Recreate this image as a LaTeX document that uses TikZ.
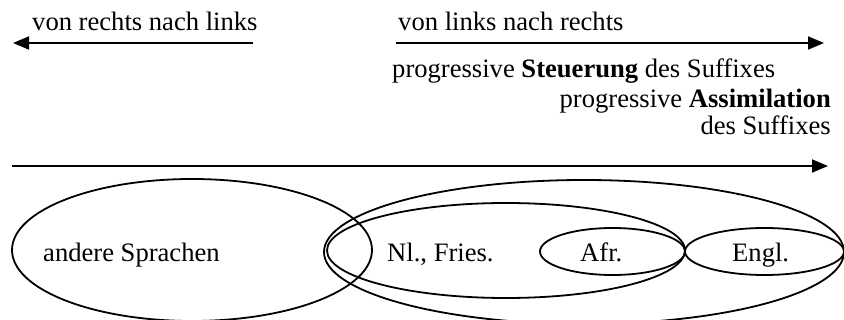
\documentclass[tikz,border=0pt]{standalone}
\usepackage{fontspec}
\setmainfont{Liberation Serif}
\usetikzlibrary{arrows.meta,shapes.geometric}
\tikzset{
  ln/.style={line width=1.8pt},
  arr/.style={ln,-{Triangle[length=16pt,width=13pt]}},
  ell/.style={ln,draw,ellipse,inner sep=0pt},
  lbl/.style={inner sep=0pt,font=\fontsize{26.6}{32}\selectfont}
}
\begin{document}
\begin{tikzpicture}[x=1pt,y=-1pt]
\useasboundingbox (0,0) rectangle (844,320);
% arrows
\coordinate (l1) at (253,43); \coordinate (l2) at (13,43);
\coordinate (r1) at (396,43); \coordinate (r2) at (824,43);
\coordinate (m1) at (12,166); \coordinate (m2) at (828,166);
\draw[arr] (l1) -- (l2);
\draw[arr] (r1) -- (r2);
\draw[arr] (m1) -- (m2);
% top texts
\node[lbl,anchor=base west] (trl) at (32,31) {von rechts nach links};
\node[lbl,anchor=base west] (tlr) at (398,31) {von links nach rechts};
\node[lbl,anchor=base west] (st) at (392,78) {progressive \textbf{Steuerung} des Suffixes};
\node[lbl,anchor=base east] (as) at (831,108) {progressive \textbf{Assimilation}};
\node[lbl,anchor=base east] (ds) at (831,135) {des Suffixes};
% ellipses
\node[ell,minimum width=360pt,minimum height=142pt] (eA) at (192,250) {};
\node[ell,minimum width=520pt,minimum height=144pt] (eO) at (584,252) {};
\node[ell,minimum width=358pt,minimum height=95pt] (eN) at (506,250.5) {};
\node[ell,minimum width=145pt,minimum height=47pt] (eF) at (612.5,251.5) {};
\node[ell,minimum width=159pt,minimum height=47pt] (eE) at (764.5,251.5) {};
% labels
\node[lbl,anchor=base west] (tA) at (43,262) {andere Sprachen};
\node[lbl,anchor=base west] (tN) at (387,262) {Nl., Fries.};
\node[lbl,anchor=base west] (tF) at (580,262) {Afr.};
\node[lbl,anchor=base west] (tE) at (732,262) {Engl.};
\end{tikzpicture}
\end{document}
